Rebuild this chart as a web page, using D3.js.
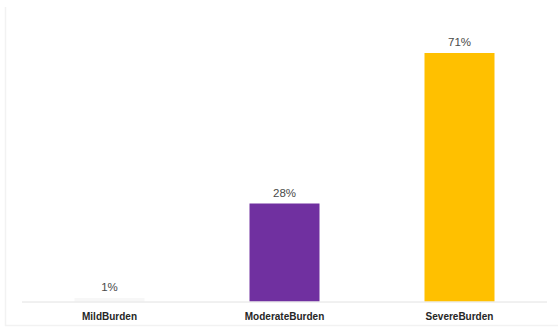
<!DOCTYPE html>
<html>
<head>
<meta charset="utf-8">
<script src="https://cdn.jsdelivr.net/npm/d3@7"></script>
<style>
  html, body { margin: 0; padding: 0; background: #ffffff; }
  svg { display: block; font-family: "Liberation Sans", Arial, sans-serif; }
</style>
</head>
<body>
<svg id="chart" width="558" height="330"></svg>
<script>
// Share of respondents by burden level (percent)
const categories = ["MildBurden", "ModerateBurden", "SevereBurden"];
const values = [1, 28, 71];
const barColors = ["#f7f7f7", "#7030a0", "#ffc000"];

const width = 558, height = 330;
const margin = { left: 22, right: 11, top: 21.5, bottom: 28.5 };

const svg = d3.select("#chart");

// faint left and bottom edges of the chart frame
svg.append("path")
  .attr("d", "M5.5,7V325.5H558")
  .attr("fill", "none")
  .attr("stroke", "#f2f2f2")
  .attr("stroke-width", 1.5);

const x = d3.scaleBand()
  .domain(categories)
  .range([margin.left, width - margin.right])
  .paddingInner(0.6)
  .paddingOuter(0.3);

const y = d3.scaleLinear()
  .domain([0, 80])
  .range([height - margin.bottom, margin.top]);

// bars
svg.selectAll("rect.bar")
  .data(values)
  .join("rect")
  .attr("class", "bar")
  .attr("x", (d, i) => x(categories[i]))
  .attr("width", x.bandwidth())
  .attr("y", d => y(d))
  .attr("height", d => y(0) - y(d))
  .attr("fill", (d, i) => barColors[i]);

// baseline
svg.append("line")
  .attr("x1", margin.left).attr("x2", width - margin.right)
  .attr("y1", y(0) + 0.5).attr("y2", y(0) + 0.5)
  .attr("stroke", "#e2e2e2")
  .attr("stroke-width", 1);

// value labels
svg.selectAll("text.value")
  .data(values)
  .join("text")
  .attr("class", "value")
  .attr("x", (d, i) => x(categories[i]) + x.bandwidth() / 2)
  .attr("y", d => y(d) - 7)
  .attr("text-anchor", "middle")
  .attr("font-size", 11.5)
  .attr("fill", "#4a4a4a")
  .text(d => d + "%");

// category axis
const xAxis = d3.axisBottom(x).tickSize(0).tickPadding(11);
const gx = svg.append("g")
  .attr("transform", `translate(0,${y(0)})`)
  .call(xAxis);
gx.select(".domain").remove();
gx.selectAll("text")
  .attr("font-family", "'Liberation Sans', Arial, sans-serif")
  .attr("font-size", 10)
  .attr("font-weight", "bold")
  .attr("fill", "#262626");
</script>
</body>
</html>
